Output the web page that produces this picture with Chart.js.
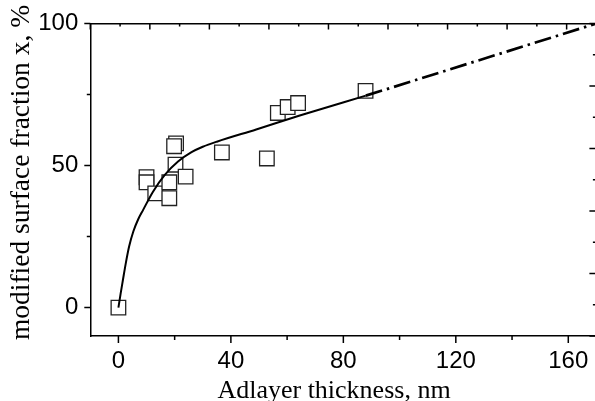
<!DOCTYPE html>
<html>
<head>
<meta charset="utf-8">
<script src="https://cdn.jsdelivr.net/npm/chart.js@4/dist/chart.umd.min.js"></script>
<style>
    html, body { margin: 0; padding: 0; background: #fff; overflow: hidden; }
</style>
</head>
<body>
<canvas id="dataChart" width="600" height="401"></canvas>
<script>
// Measured points (thickness in nm, modified fraction in %)
const thickness = [0, 10, 10, 13.1, 18.1, 18.1, 20.5, 19.8, 20.3, 23.9, 36.8, 52.8, 56.7, 60.2, 63.9, 87.9];
const fraction  = [0, 45.9, 44.1, 40.2, 44.1, 38.5, 57.8, 56.8, 50.3, 46.1, 54.6, 52.5, 68.5, 70.6, 72.0, 76.3];

// Fitted curve
const fitX = [0, 0.8, 1.6, 2.6, 3.8, 5.3, 7, 8.8, 12.3, 16.5, 21.2, 26, 30, 35, 49, 64.5, 88];
const fitY = [0, 5, 9.7, 15.5, 21.5, 26.8, 31, 34.4, 40.8, 46.7, 51.4, 54.7, 56.6, 58.4, 62.7, 67.6, 74.6];

// Extrapolation (dash-dot)
const extX = [88, 170];
const extY = [74.6, 100];

// Axes ticks
const xTicks = [0, 40, 80, 120, 160];
const xMinor = [20, 60, 100, 140];
const yTicks = [0, 50, 100];
const yMinor = [25, 75];
const topTicks = [0, 1, 2, 3, 4, 5, 6, 7, 8, 9, 10, 11, 12, 13, 14, 15, 16, 17];
const rightTicks = [0, 1, 2, 3, 4, 5, 6, 7, 8, 9, 10];

const xTitle = 'Adlayer thickness, nm';
const yTitle = 'modified surface fraction x, %';

const toXY = (xs, ys) => xs.map((x, i) => ({ x: x, y: ys[i] }));

// Vẽ vạch chia và tiêu đề trục
const axisDecor = {
    id: 'axisDecor',
    afterDraw(chart) {
        const ctx = chart.ctx;
        const { x, y, x2, y2 } = chart.scales;
        ctx.save();
        ctx.strokeStyle = '#000';
        ctx.lineWidth = 1.5;
        ctx.beginPath();
        // bottom: outward
        xTicks.forEach(v => { const p = x.getPixelForValue(v); ctx.moveTo(p, x.top); ctx.lineTo(p, x.top + 7); });
        xMinor.forEach(v => { const p = x.getPixelForValue(v); ctx.moveTo(p, x.top); ctx.lineTo(p, x.top + 4); });
        // left: outward
        yTicks.forEach(v => { const p = y.getPixelForValue(v); ctx.moveTo(y.right, p); ctx.lineTo(y.right - 6, p); });
        yMinor.forEach(v => { const p = y.getPixelForValue(v); ctx.moveTo(y.right, p); ctx.lineTo(y.right - 3.5, p); });
        // top: inward
        topTicks.forEach(v => {
            const p = x2.getPixelForValue(v);
            ctx.moveTo(p, x2.bottom); ctx.lineTo(p, x2.bottom + (v % 2 === 0 ? 6 : 3));
        });
        // right: inward
        rightTicks.forEach(v => {
            const p = y2.getPixelForValue(v);
            ctx.moveTo(y2.left, p); ctx.lineTo(y2.left - (v % 2 === 0 ? 7 : 3.5), p);
        });
        ctx.stroke();

        ctx.fillStyle = '#000';
        ctx.textAlign = 'center';
        ctx.textBaseline = 'alphabetic';
        ctx.font = '26px "Liberation Serif", "Times New Roman", serif';
        ctx.fillText(xTitle, 334, 398);
        ctx.font = '27.5px "Liberation Serif", "Times New Roman", serif';
        ctx.translate(29.3, 172.5);
        ctx.rotate(-Math.PI / 2);
        ctx.fillText(yTitle, 0, 0);
        ctx.restore();
    }
};

const tickFont = { family: '"Liberation Sans", Arial, sans-serif', size: 24 };

new Chart(document.getElementById('dataChart'), {
    type: 'scatter',
    data: {
        datasets: [
            {
                data: toXY(fitX, fitY),
                showLine: true,
                borderColor: '#000',
                borderWidth: 2,
                pointRadius: 0,
                cubicInterpolationMode: 'monotone',
                order: 0
            },
            {
                data: toXY(extX, extY),
                showLine: true,
                borderColor: '#000',
                borderWidth: 2.7,
                borderDash: [17, 5, 2.5, 5],
                pointRadius: 0,
                order: 0
            },
            {
                data: toXY(thickness, fraction),
                pointStyle: 'rect',
                pointRadius: 10.3,
                pointBackgroundColor: '#fff',
                pointBorderColor: '#222',
                pointBorderWidth: 1.3,
                order: 1
            }
        ]
    },
    options: {
        responsive: false,
        animation: false,
        layout: { padding: 0, autoPadding: false },
        plugins: {
            legend: { display: false },
            tooltip: { enabled: false }
        },
        scales: {
            x: {
                type: 'linear',
                position: 'bottom',
                min: -10,
                max: 170,
                afterBuildTicks: s => { s.ticks = xTicks.map(v => ({ value: v })); },
                afterFit: s => { s.height = 65; s.paddingLeft = 0; s.paddingRight = 0; },
                grid: { display: false, drawTicks: false },
                border: { display: true, color: '#000', width: 1.5 },
                ticks: { font: tickFont, color: '#000', padding: 11, maxRotation: 0 }
            },
            x2: {
                type: 'linear',
                position: 'top',
                min: 0,
                max: 17,
                afterFit: s => { s.height = 23.5; s.paddingLeft = 0; s.paddingRight = 0; },
                grid: { display: false, drawTicks: false },
                border: { display: true, color: '#000', width: 1.5 },
                ticks: { display: false }
            },
            y: {
                type: 'linear',
                position: 'left',
                min: -10,
                max: 100,
                afterBuildTicks: s => { s.ticks = yTicks.map(v => ({ value: v })); },
                afterFit: s => { s.width = 90.3; s.paddingTop = 0; s.paddingBottom = 0; },
                grid: { display: false, drawTicks: false },
                border: { display: true, color: '#000', width: 1.5 },
                ticks: { font: tickFont, color: '#000', padding: 12 }
            },
            y2: {
                type: 'linear',
                position: 'right',
                min: 0,
                max: 10,
                afterFit: s => { s.width = 3.6; s.paddingTop = 0; s.paddingBottom = 0; },
                grid: { display: false, drawTicks: false },
                border: { display: true, color: '#000', width: 1.5 },
                ticks: { display: false }
            }
        }
    },
    plugins: [axisDecor]
});
</script>
</body>
</html>
